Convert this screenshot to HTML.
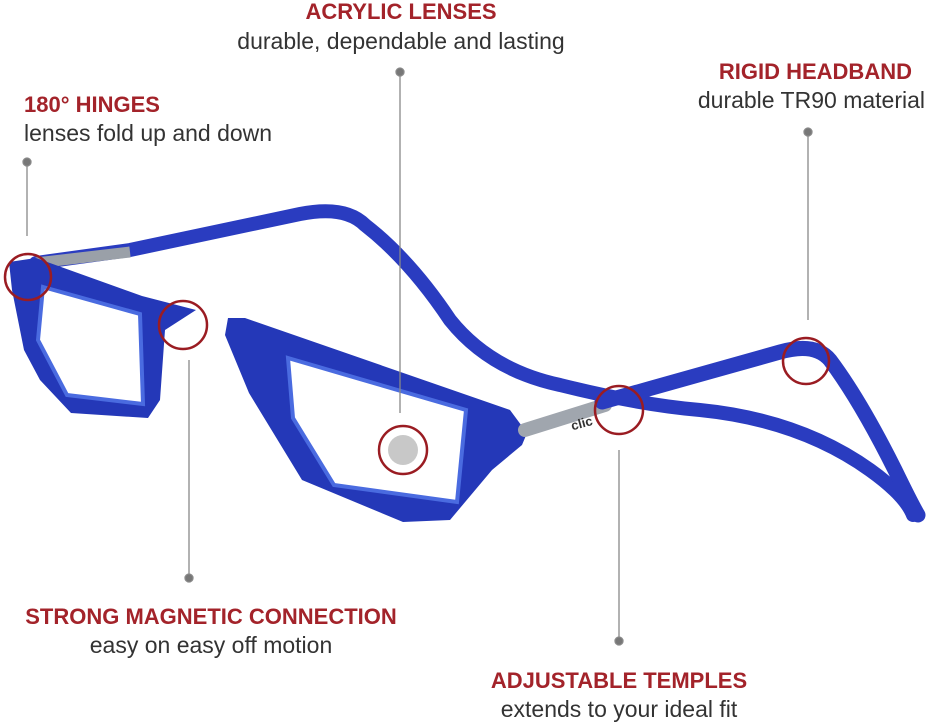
<!DOCTYPE html>
<html><head><style>
body{margin:0;background:#fff;width:926px;height:725px;overflow:hidden;position:relative;font-family:"Liberation Sans",sans-serif}
.h{position:absolute;color:#a3232a;font-weight:bold;font-size:22px;white-space:nowrap;line-height:24px}
.s{position:absolute;color:#333;font-size:23px;white-space:nowrap;line-height:24px}
.c{transform:translateX(-50%)}
svg{position:absolute;left:0;top:0}
</style></head><body>
<svg width="926" height="725">
<!-- back temple -->
<path d="M36,263 L130,250 L300,214 Q345,205 365,225 Q410,260 450,320 Q490,370 560,385 Q640,405 700,410 Q800,420 870,470 Q905,495 913,515" fill="none" stroke="#2a3cc0" stroke-width="14" stroke-linecap="round"/>
<path d="M36,263 L130,252" stroke="#9aa0a8" stroke-width="11"/>
<!-- left lens -->
<path d="M9,262 L36,258 L142,296 L196,310 L165,330 L160,400 L148,418 L71,413 L40,380 L24,350 L12,290 Z" fill="#2438b8"/>
<path d="M43,287 L140,314 L143,404 L67,395 L38,340 Z" fill="#fff" stroke="#4a6be0" stroke-width="4"/>
<!-- right front -->
<path d="M228,318 L245,318 L510,410 L527,433 L522,445 L492,470 L450,520 L403,522 L302,480 L249,393 L225,335 Z" fill="#2438b8"/>
<path d="M288,358 L466,410 L457,502 L334,485 L293,418 Z" fill="#fff" stroke="#4a6be0" stroke-width="4"/>
<!-- near temple -->
<path d="M525,430 L605,405" stroke="#a0a6ae" stroke-width="14" stroke-linecap="round"/>
<text x="570" y="428" font-size="13" font-weight="bold" fill="#333" transform="rotate(-15 580 420)">clic</text>
<path d="M602,402 L780,352 Q815,342 830,360 Q860,400 895,470 Q912,505 918,515" fill="none" stroke="#2a3cc0" stroke-width="15" stroke-linecap="round"/>
<!-- dots and lines -->
<g stroke="#888" stroke-width="1.3" fill="#777">
<line x1="27" y1="162" x2="27" y2="236"/><circle cx="27" cy="162" r="4"/>
<line x1="400" y1="72" x2="400" y2="413"/><circle cx="400" cy="72" r="4"/>
<line x1="808" y1="132" x2="808" y2="320"/><circle cx="808" cy="132" r="4"/>
<line x1="189" y1="360" x2="189" y2="578"/><circle cx="189" cy="578" r="4"/>
<line x1="619" y1="450" x2="619" y2="641"/><circle cx="619" cy="641" r="4"/>
</g>
<circle cx="403" cy="450" r="15" fill="#c8c8c8"/>
<g fill="none" stroke="#9a1c22" stroke-width="2.5">
<circle cx="28" cy="277" r="23"/><circle cx="183" cy="325" r="24"/><circle cx="403" cy="450" r="24"/><circle cx="619" cy="410" r="24"/><circle cx="806" cy="361" r="23"/>
</g>
</svg>
<div class="h c" style="left:401px;top:0">ACRYLIC LENSES</div>
<div class="s c" style="left:401px;top:29px">durable, dependable and lasting</div>
<div class="h" style="left:24px;top:93px">180° HINGES</div>
<div class="s" style="left:24px;top:121px">lenses fold up and down</div>
<div class="h" style="right:14px;top:60px">RIGID HEADBAND</div>
<div class="s" style="right:1px;top:88px">durable TR90 material</div>
<div class="h c" style="left:211px;top:605px">STRONG MAGNETIC CONNECTION</div>
<div class="s c" style="left:211px;top:633px">easy on easy off motion</div>
<div class="h c" style="left:619px;top:669px">ADJUSTABLE TEMPLES</div>
<div class="s c" style="left:619px;top:697px">extends to your ideal fit</div>
</body></html>
